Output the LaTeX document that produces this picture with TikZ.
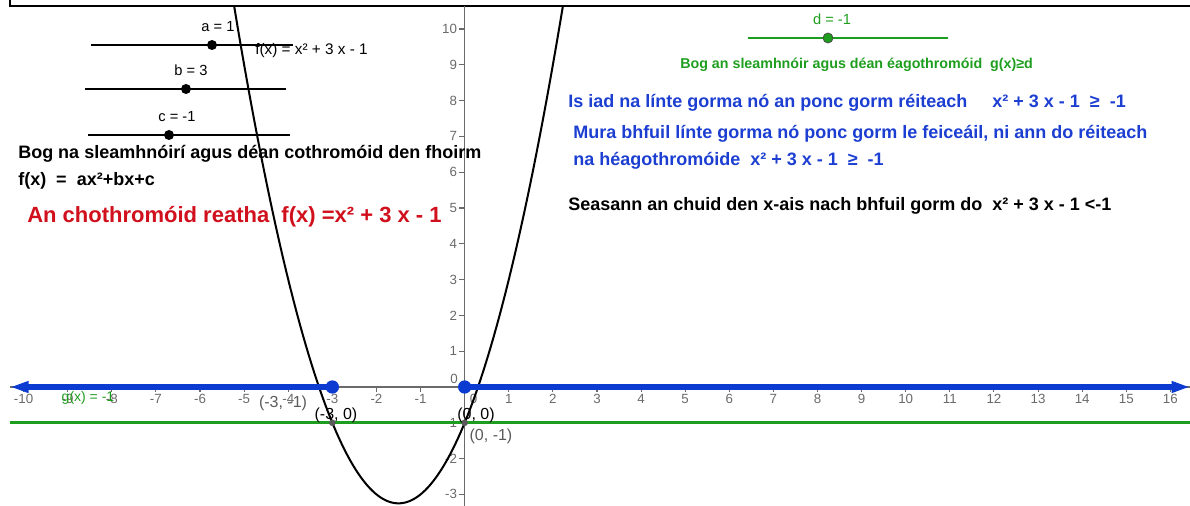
\documentclass[tikz,border=0pt]{standalone}
\usepackage{fontspec}
\setmainfont{Liberation Sans}
\usepackage{tikz}
\usetikzlibrary{arrows.meta}
\definecolor{ggbBlue}{HTML}{0B3BD0}
\definecolor{ggbGreen}{HTML}{1E9E1E}
\definecolor{ggbRed}{HTML}{D0101C}
\definecolor{txtBlue}{HTML}{1C3FD2}
\definecolor{axisGrey}{HTML}{6A6A6A}
\definecolor{ptGrey}{HTML}{5A5A5A}
\newcommand{\fs}[1]{\fontsize{#1}{#1}\selectfont}

\begin{document}
\begin{tikzpicture}[
    x=0.75pt, y=-0.75pt,
    >={Triangle[length=14pt, width=8pt]},
    say/.style={anchor=base west, inner sep=0pt, font=\fs{13.5}\bfseries},
    plain/.style={inner sep=0pt, font=\fs{#1}},
    plain/.default=11,
    tickno/.style={inner sep=0pt, font=\fs{10}, text=axisGrey},
    slider/.style={line width=2pt},
    knob/.style={circle, fill, inner sep=0pt, minimum size=7.5pt},
    bigdot/.style={circle, fill=ggbBlue, inner sep=0pt, minimum size=10pt},
    smalldot/.style={circle, fill=ptGrey, inner sep=0pt, minimum size=5pt},
    ray/.style={ggbBlue, line width=3.8pt},
  ]

  \useasboundingbox (0,0) rectangle (1190,506);

  % --- frame of the panel above ---
  \draw[line width=1.9pt] (10,0) -- (10,6) -- (1190,6);

  % --- graphics view ---
  \begin{scope}[xshift=348.5pt, yshift=-290.25pt, x=33.08pt, y=26.85pt]
    % axes
    \draw[axisGrey, line width=1.1pt] (-10.31,0) -- (16.45,0);
    \draw[axisGrey, line width=1.1pt] (0,-3.33) -- (0,10.64);
    \foreach \i in {-10,...,16}
      \draw[axisGrey, line width=0.8pt] (\i,0) -- ++(0pt,-4pt);
    \foreach \j in {-3,...,10}
      \draw[axisGrey, line width=0.8pt] (0,\j) -- ++(-4pt,0pt);
    \foreach \i in {-10,...,16}{
      \ifnum\i=0\else
        \node[tickno, anchor=north, yshift=-5.5pt] (xt\i) at (\i,0) {\i};
      \fi}
    \foreach \j in {-3,...,10}{
      \ifnum\j=0\else
        \node[tickno, anchor=east, xshift=-5.5pt] (yt\j) at (0,\j) {\j};
      \fi}
    \node[tickno, anchor=south east] (orig) at (-5pt,2pt) {0};
    \node[tickno, anchor=north, yshift=-5.5pt] (xt0) at (0.2,0) {0};

    % line g(x) = d
    \coordinate (gL) at (-10.31,-1);
    \coordinate (gR) at (16.45,-1);
    \draw[ggbGreen, line width=2.2pt] (gL) -- (gR);

    % f(x) = x^2 + 3x - 1
    \draw[line width=1.5pt, domain=-5.227:2.227, samples=120]
      plot (\x, {\x*\x+3*\x-1});

    % solution rays
    \coordinate (A) at (-3,0);
    \coordinate (O) at (0,0);
    \coordinate (leftEnd) at (-10.31,0);
    \coordinate (rightEnd) at (16.45,0);
    \draw[ray, <-] (leftEnd) -- (A);
    \draw[ray, ->] (O) -- (rightEnd);

    \node[smalldot] (pA) at (-3,-1) {};
    \node[smalldot] (pB) at (0,-1) {};
    \node[bigdot] (dotA) at (A) {};
    \node[bigdot] (dotO) at (O) {};
  \end{scope}

  % --- point and line labels ---
  \node[plain=12, text=ptGrey] (lblA1) at (283,403) {(-3, -1)};
  \node[plain=12] (lblA0) at (336,415) {(-3, 0)};
  \node[plain=12] (lblO) at (476,415) {(0, 0)};
  \node[plain=12, text=ptGrey] (lblB1) at (491,436) {(0, -1)};
  \node[plain=10.5, text=ggbGreen] (gLbl) at (88,398) {g(x) = -1};

  % --- sliders a, b, c ---
  \foreach \nm/\lx/\rx/\kx/\yy/\tx/\val in
      {a/91/293/212/45/218/1, b/85/286/186/89/191/3, c/88/290/169/135/177/-1}{
    \coordinate (\nm-left) at (\lx,\yy);
    \coordinate (\nm-right) at (\rx,\yy);
    \draw[slider] (\nm-left) -- (\nm-right);
    \node[knob] (\nm-knob) at (\kx,\yy) {};
    \node[plain, anchor=base] (\nm-lbl) at (\tx,\yy-13) {\nm{} = \val};
  }
  \node[plain=11.5, anchor=base west] (fLbl) at (255,55) {f(x) = x² + 3 x - 1};

  % --- slider d ---
  \coordinate (d-left) at (748,38);
  \coordinate (d-right) at (948,38);
  \draw[ggbGreen, line width=1.9pt] (d-left) -- (d-right);
  \node[knob, fill=ggbGreen, draw=black!70, line width=0.6pt] (d-knob) at (828,38) {};
  \node[plain, text=ggbGreen, anchor=base] (d-lbl) at (832,25) {d = -1};

  % --- texts ---
  \node[say] (howto) at (18,159) {Bog na sleamhnóirí agus déan cothromóid den fhoirm};
  \node[say] (form) at (18,186) {f(x)\ \ =\ \ ax²+bx+c};
  \node[say, font=\fs{16.5}\bfseries, text=ggbRed] (current) at (27,223)
    {An chothromóid reatha\ \ f(x) =x² + 3 x - 1};
  \node[say, font=\fs{10.7}\bfseries, text=ggbGreen] (moveD) at (680,69)
    {Bog an sleamhnóir agus déan éagothromóid\ \ g(x)≥d};
  \node[say, text=txtBlue] (sol1) at (568,108)
    {Is iad na línte gorma nó an ponc gorm réiteach\ \ \ \ \ x² + 3 x - 1\ \ ≥\ \ -1};
  \node[say, text=txtBlue] (sol2) at (573,139)
    {Mura bhfuil línte gorma nó ponc gorm le feiceáil, ni ann do réiteach};
  \node[say, text=txtBlue] (sol3) at (573,166)
    {na héagothromóide\ \ x² + 3 x - 1\ \ ≥\ \ -1};
  \node[say] (rest) at (568,211)
    {Seasann an chuid den x-ais nach bhfuil gorm do\ \ x² + 3 x - 1 <-1};

\end{tikzpicture}
\end{document}
